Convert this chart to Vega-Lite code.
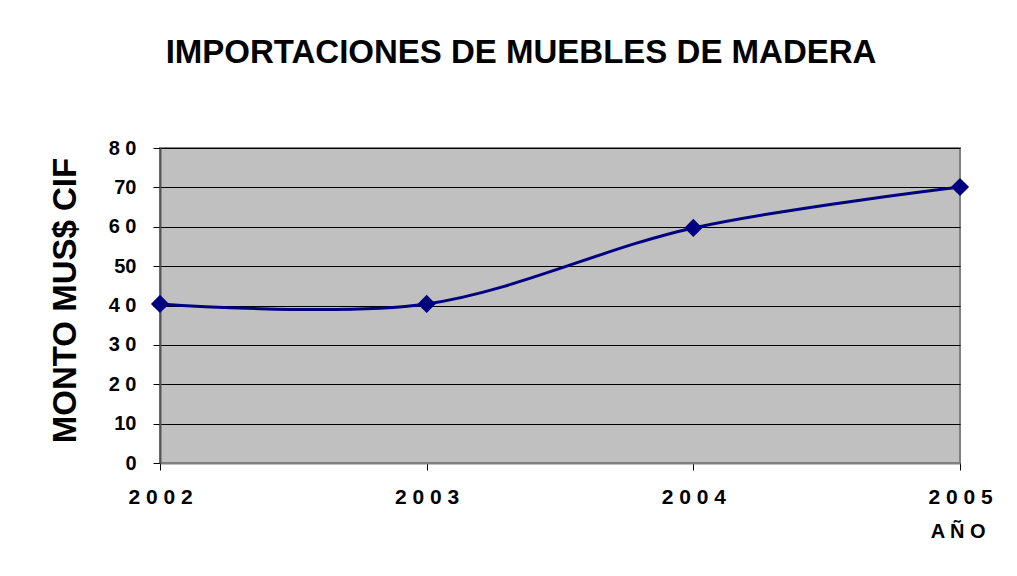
{
  "$schema": "https://vega.github.io/schema/vega-lite/v6.json",
  "autosize": {"type": "none"},
  "padding": {"left": 160, "top": 148, "right": 57, "bottom": 113},
  "width": 800,
  "height": 315,
  "background": "white",
  "title": {
    "text": "IMPORTACIONES DE MUEBLES DE MADERA",
    "font": "Liberation Sans",
    "fontSize": 33,
    "fontWeight": "bold",
    "color": "black",
    "anchor": "middle",
    "baseline": "alphabetic",
    "offset": 42,
    "dx": -39
  },
  "config": {
    "view": {"fill": "#C0C0C0", "stroke": "#808080", "strokeWidth": 2},
    "axis": {
      "labelFont": "Liberation Sans",
      "labelFontWeight": "bold",
      "labelColor": "black",
      "titleFont": "Liberation Sans",
      "titleFontWeight": "bold",
      "titleColor": "black"
    }
  },
  "data": {
    "values": [
      {"year": 2002, "value": 40.4},
      {"year": 2003, "value": 40.4},
      {"year": 2004, "value": 59.7},
      {"year": 2005, "value": 70.1}
    ]
  },
  "encoding": {
    "x": {
      "field": "year",
      "type": "quantitative",
      "scale": {"domain": [2002, 2005], "nice": false, "zero": false},
      "axis": {
        "values": [2002, 2003, 2004, 2005],
        "labelExpr": "join(split(toString(datum.value), ''), ' ')",
        "labelFontSize": 21,
        "labelPadding": 16,
        "tickSize": 7,
        "tickColor": "black",
        "domainColor": "#808080",
        "domainWidth": 2,
        "grid": false,
        "labelFlush": false,
        "title": "A Ñ O",
        "titleFontSize": 20,
        "titleX": 825,
        "titleY": 74,
        "titleAlign": "right",
        "titleBaseline": "alphabetic"
      }
    },
    "y": {
      "field": "value",
      "type": "quantitative",
      "scale": {"domain": [0, 80], "nice": false},
      "axis": {
        "values": [0, 10, 20, 30, 40, 50, 60, 70, 80],
        "labelExpr": "datum.value == 80 ? '8 0' : datum.value == 60 ? '6 0' : datum.value == 40 ? '4 0' : datum.value == 30 ? '3 0' : datum.value == 20 ? '2 0' : toString(datum.value)",
        "labelFontSize": 20,
        "labelPadding": 17,
        "tickSize": 7,
        "tickColor": "black",
        "domainColor": "#555555",
        "domainWidth": 2,
        "grid": true,
        "gridColor": "black",
        "gridWidth": 1,
        "gridOpacity": 1,
        "title": "MONTO MUS$ CIF",
        "titleFontSize": 33,
        "titleAngle": 270,
        "titleX": -95,
        "titleY": 152,
        "titleAlign": "center",
        "titleBaseline": "middle"
      }
    }
  },
  "layer": [
    {
      "mark": {"type": "line", "interpolate": "cardinal", "color": "#000080", "strokeWidth": 3}
    },
    {
      "mark": {"type": "point", "shape": "diamond", "filled": true, "color": "#000080", "size": 330, "opacity": 1}
    }
  ]
}
